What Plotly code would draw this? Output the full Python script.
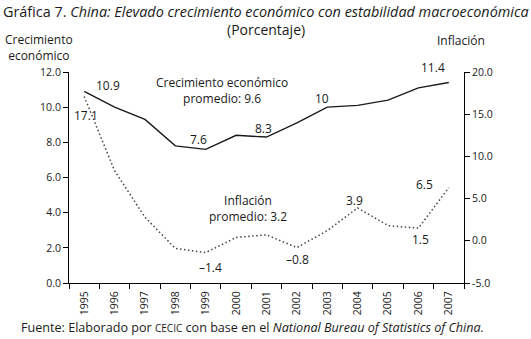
import plotly.graph_objects as go

years = ["1995", "1996", "1997", "1998", "1999", "2000", "2001",
         "2002", "2003", "2004", "2005", "2006", "2007"]
growth = [10.9, 10.0, 9.3, 7.8, 7.6, 8.4, 8.3, 9.1, 10.0, 10.1, 10.4, 11.1, 11.4]
inflation = [17.1, 8.3, 2.8, -0.9, -1.4, 0.4, 0.7, -0.8, 1.2, 3.9, 1.8, 1.5, 6.3]

left_ticks = [0, 2, 4, 6, 8, 10, 12]
left_ticktext = ["0.0", "2.0", "4.0", "6.0", "8.0", "10.0", "12.0"]
right_ticks = [-5, 0, 5, 10, 15, 20]
right_ticktext = ["-5.0", "0.0", "5.0", "10.0", "15.0", "20.0"]

FONT = "Open Sans"
W, H = 531, 339
L, R, T, B = 69, 464, 72, 283


def px(x):
    return (x - L) / (R - L)


def py(y):
    return (B - y) / (B - T)


fig = go.Figure()
fig.add_trace(go.Scatter(x=years, y=growth, mode="lines",
                         line=dict(color="#1a1a1a", width=1.4), yaxis="y",
                         showlegend=False, hoverinfo="skip"))
fig.add_trace(go.Scatter(x=years, y=inflation, mode="lines",
                         line=dict(color="#444444", width=1.5, dash="1.5px,2.5px"),
                         yaxis="y2", showlegend=False, hoverinfo="skip"))

labels = [
    ("10.9", 108, 85, 12), ("17.1", 86, 115, 12), ("7.6", 198, 139, 12),
    ("8.3", 263, 128, 12), ("10", 322, 98, 12), ("11.4", 433, 67, 12),
    ("\u20131.4", 210, 267, 12), ("\u20130.8", 297, 259, 12), ("3.9", 354, 200, 12),
    ("6.5", 424, 184, 12), ("1.5", 420, 239, 12),
    ("Crecimiento económico<br>promedio: 9.6", 222, 90, 12),
    ("Inflación<br>promedio: 3.2", 248, 209, 12),
    ("Gráfica 7. <i>China: Elevado crecimiento económico con estabilidad macroeconómica</i>", 266, 11, 14.4),
    ("(Porcentaje)", 266, 29, 14),
    ("Crecimiento<br>económico", 39, 47, 12),
    ("Inflación", 461, 40, 12),
    ("Fuente: Elaborado por <span style='font-size:10px'>CECIC</span> con base en el <i>National Bureau of Statistics of China.</i>", 252, 327, 12.6),
]
ann = []
for t, x, y, s in labels:
    ann.append(dict(text=t, x=px(x), y=py(y), xref="paper", yref="paper",
                    showarrow=False, xanchor="center", yanchor="middle",
                    font=dict(family=FONT, size=s, color="#1a1a1a")))

fig.update_layout(
    width=W, height=H,
    margin=dict(l=L, r=W - R, t=T, b=H - B, autoexpand=False),
    paper_bgcolor="white", plot_bgcolor="white",
    font=dict(family=FONT, size=10, color="#1a1a1a"),
    annotations=ann,
    xaxis=dict(type="category", range=[-0.5, len(years) - 0.5],
               tickson="boundaries", ticks="outside", ticklen=5,
               tickcolor="black", showline=True, linecolor="black", linewidth=1,
               showgrid=False, tickangle=-90, tickfont=dict(size=10.5),
               ticklabelstandoff=3, automargin=False),
    yaxis=dict(range=[0, 12], tickvals=left_ticks, ticktext=left_ticktext,
               ticks="outside", ticklen=5, tickcolor="black", showline=True,
               linecolor="black", linewidth=1, showgrid=False, zeroline=False,
               tickfont=dict(size=10.5), automargin=False),
    yaxis2=dict(range=[-5, 20], tickvals=right_ticks, ticktext=right_ticktext,
                overlaying="y", side="right", ticks="outside", ticklen=5,
                tickcolor="black", showline=True, linecolor="black", linewidth=1,
                showgrid=False, zeroline=False, tickfont=dict(size=10.5),
                automargin=False),
)

fig.write_html("out.html", config={"displayModeBar": False},
               post_script="document.body.style.margin='0';")
